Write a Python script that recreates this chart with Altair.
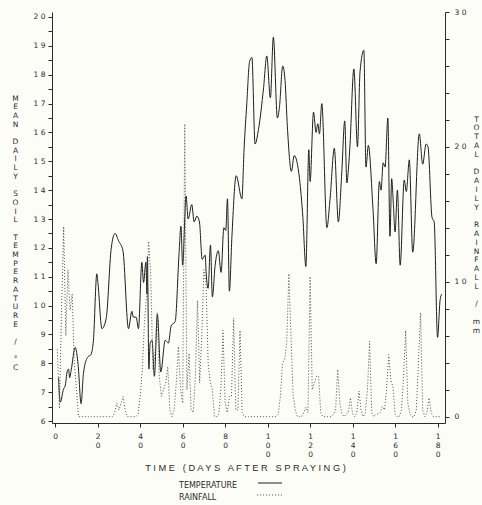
import altair as alt
import pandas as pd

# Mean daily soil temperature (deg C) against days after spraying
temp_day = [1.6, 2.4, 3.9, 4.8, 5.6, 6.3, 6.8, 7.5, 9.4, 10.8, 12.2, 13.3, 15.2, 16.8,
            18.0, 19.6, 20.1, 22.0, 24.0, 26.4, 28.2, 29.8, 31.9, 34.5, 36.1, 36.8,
            38.1, 39.2, 40.8, 41.6, 42.7, 43.2, 43.4, 44.1, 44.7, 45.6, 46.7, 48.1,
            49.7, 51.8, 53.3, 54.6, 56.5, 58.3, 59.2, 60.0, 61.6, 62.6, 64.3, 65.4,
            66.7, 67.9, 69.2, 70.6, 71.1, 72.0, 73.1, 74.0, 75.3, 76.8, 78.1, 79.4,
            80.3, 81.1, 82.0, 83.2, 85.2, 87.9, 88.9, 90.2, 91.5, 92.6, 94.1, 95.7,
            98.1, 99.6, 101.3, 102.7, 104.6, 105.6, 107.1, 108.2, 109.3, 111.2, 112.5,
            115.0, 116.6, 118.0, 119.4, 120.0, 121.6, 122.8, 123.6, 124.4, 125.5,
            127.9, 129.4, 131.4, 133.3, 134.9, 136.3, 137.3, 138.1, 138.8, 140.6,
            142.3, 143.5, 145.3, 146.3, 147.4, 149.6, 151.1, 152.6, 153.4, 154.4,
            155.3, 156.6, 157.6, 158.4, 159.2, 160.0, 161.1, 162.4, 164.3, 165.3,
            166.7, 168.3, 171.4, 173.0, 174.6, 175.5, 177.4, 178.4, 180.0, 181.2, 182.0]
temp_val = [7.5, 6.65, 7.1, 7.25, 7.7, 7.8, 7.5, 7.75, 8.55, 7.95, 6.6, 7.65, 8.2, 8.3,
            8.8, 11.1, 10.8, 9.2, 9.55, 12.0, 12.5, 12.25, 11.9, 9.2, 9.8, 9.6,
            9.6, 9.2, 11.5, 10.8, 11.5, 10.4, 11.7, 7.8, 8.7, 8.8, 7.55, 9.7,
            7.7, 8.8, 8.7, 9.3, 9.45, 11.8, 12.75, 11.4, 13.8, 13.0, 13.5, 12.9,
            13.1, 12.9, 11.6, 11.75, 11.1, 10.6, 12.1, 10.3, 11.4, 11.9, 11.15, 12.7,
            12.6, 13.7, 10.5, 12.4, 14.5, 13.7, 15.4, 17.0, 18.45, 18.6, 15.6, 16.1,
            17.55, 18.65, 17.2, 19.3, 16.5, 16.9, 18.3, 17.8, 16.2, 14.65, 15.2,
            14.4, 13.05, 11.35, 15.4, 14.3, 16.7, 16.0, 16.3, 15.95, 17.0,
            12.7, 13.7, 15.45, 12.9, 14.6, 16.4, 14.25, 14.8, 15.6, 18.2,
            15.5, 18.1, 18.85, 14.8, 15.55, 13.35, 11.45, 14.3, 14.0, 14.95,
            14.8, 16.5, 12.4, 14.4, 13.5, 12.55, 14.0, 11.4, 14.35, 13.95,
            15.05, 11.85, 15.95, 14.9, 15.6, 15.5, 13.05, 12.9, 8.9, 10.2, 10.4]

# Total daily rainfall (mm), one value per day from day 1
rain_val = [5.0, 0.6, 8.0, 14.1, 6.0, 10.9, 7.9, 9.1, 4.0, 2.0,      # 1-10
            0.0, 0.0, 0.0, 0.0, 0.0, 0.0, 0.0, 0.0, 0.0, 0.0,        # 11-20
            0.0, 0.0, 0.0, 0.0, 0.0, 0.0, 0.0, 0.3, 1.0, 0.5,        # 21-30
            1.0, 1.5, 0.4, 0.0, 0.0, 0.0, 0.0, 0.0, 0.2, 1.5,        # 31-40
            3.5, 6.9, 9.0, 13.0, 10.4, 3.5, 4.7, 7.7, 3.0, 1.5,      # 41-50
            2.0, 2.5, 3.7, 0.5, 0.0, 0.5, 2.5, 5.2, 2.0, 1.0,        # 51-60
            21.7, 2.0, 4.7, 0.5, 0.3, 3.0, 8.6, 2.5, 6.0, 10.9,      # 61-70
            9.9, 4.0, 2.5, 2.0, 0.0, 0.0, 0.2, 2.0, 6.4, 1.0,        # 71-80
            0.3, 1.5, 1.5, 7.3, 0.5, 0.5, 6.4, 0.3, 0.0, 0.0,        # 81-90
            0.0, 0.0, 0.0, 0.0, 0.0, 0.0, 0.0, 0.0, 0.0, 0.0,        # 91-100
            0.0, 0.0, 0.0, 0.0, 0.2, 1.5, 4.0, 4.2, 5.5, 10.6,       # 101-110
            6.0, 1.6, 0.5, 0.0, 0.0, 0.0, 0.3, 0.7, 0.3, 10.4,       # 111-120
            2.0, 2.5, 3.0, 3.0, 0.3, 0.0, 0.0, 0.0, 0.0, 0.0,        # 121-130
            0.2, 0.5, 3.5, 1.0, 0.2, 0.0, 0.2, 0.3, 1.4, 0.2,        # 131-140
            0.0, 0.3, 1.9, 0.5, 0.0, 0.3, 2.0, 5.6, 0.3, 0.0,        # 141-150
            0.2, 0.2, 0.3, 0.75, 0.5, 2.0, 4.6, 2.7, 2.2, 0.2,       # 151-160
            0.0, 0.0, 0.5, 3.0, 6.4, 1.0, 0.2, 0.0, 0.0, 0.5,        # 161-170
            4.0, 7.7, 0.5, 0.0, 0.3, 1.4, 0.3, 0.0, 0.0, 0.0, 0.0]   # 171-181
rain_day = list(range(1, len(rain_val) + 1))

x_ticks = list(range(0, 185, 5))
left_ticks = [6 + 0.5 * i for i in range(29)]
right_ticks = list(range(0, 31, 2))

NB = "\u00a0"    # gap between words on one line
GAP = "\u2800"   # empty line in a stacked (one letter per line) title
left_title = ["M", "E", "A", "N", GAP, "D", "A", "I", "L", "Y", GAP, "S", "O", "I", "L",
              GAP, "T", "E", "M", "P", "E", "R", "A", "T", "U", "R", "E", GAP, "/", GAP,
              "\u00b0", "C"]
right_title = ["T", "O", "T", "A", "L", GAP, "D", "A", "I", "L", "Y", GAP, "R", "A", "I",
               "N", "F", "A", "L", "L", GAP, "/", GAP, "m", "m"]
x_title = ("T I M E" + NB * 3 + "( D A Y S" + NB * 3 + "A F T E R" + NB * 3
           + "S P R A Y I N G )")
legend_labels = ["TEMPERATURE", "RAINFALL"]

INK = "#2a2a2a"
FONT = "DejaVu Sans"

temp_df = pd.DataFrame({"day": temp_day, "temp": temp_val})
rain_df = pd.DataFrame({"day": rain_day, "rain": rain_val})

x_scale = alt.Scale(domain=[-1.5, 183.5], nice=False, zero=False)

x_axis = alt.Axis(
    values=x_ticks,
    labelExpr="datum.value % 10 == 0 ? split(toString(datum.value), '') : ''",
    labelBaseline="top", labelLineHeight=9, labelFontSize=7.5, labelFont=FONT,
    labelPadding=5, labelFlush=False, labelOverlap=False, labelColor=INK,
    tickSize=4, tickColor=INK, domainColor=INK, grid=False,
    title=x_title, titleFont="Liberation Sans", titleFontSize=9.3,
    titleFontWeight="normal", titleColor=INK, titleX=193, titleY=44,
    titleAlign="center", titleBaseline="middle",
)

left_axis = alt.Axis(
    orient="left", values=left_ticks,
    labelExpr="datum.value % 1 == 0 ? join(split(toString(datum.value), ''), ' ') : ''",
    labelFontSize=7.5, labelFont=FONT, labelPadding=3, labelColor=INK,
    labelOverlap=False, labelFlush=False,
    tickSize=4, tickColor=INK, domainColor=INK, grid=False,
    title=left_title, titleAngle=0, titleX=-37, titleY=82, titleAlign="center",
    titleBaseline="top", titleLineHeight=8.7, titleFontSize=7.5, titleFont=FONT,
    titleFontWeight="normal", titleColor=INK,
)

right_axis = alt.Axis(
    orient="right", values=right_ticks,
    labelExpr="datum.value % 10 == 0 ? join(split(toString(datum.value), ''), ' ') : ''",
    labelFontSize=7.5, labelFont=FONT, labelPadding=5, labelColor=INK,
    labelOverlap=False, labelFlush=False,
    tickSize=4, tickColor=INK, domainColor=INK, grid=False,
    title=right_title, titleAngle=0, titleX=31, titleY=103, titleAlign="center",
    titleBaseline="top", titleLineHeight=8.8, titleFontSize=7.5, titleFont=FONT,
    titleFontWeight="normal", titleColor=INK,
)

temp_line = alt.Chart(temp_df).mark_line(
    color="#1e1e1e", strokeWidth=1, interpolate="monotone"
).encode(
    x=alt.X("day:Q", scale=x_scale, axis=x_axis),
    y=alt.Y("temp:Q", scale=alt.Scale(domain=[5.931, 20.173], nice=False, zero=False),
            axis=left_axis),
)

rain_line = alt.Chart(rain_df).mark_line(
    color="#5a5a5a", strokeWidth=1, strokeDash=[1.1, 1.9]
).encode(
    x=alt.X("day:Q", scale=x_scale),
    y=alt.Y("rain:Q", scale=alt.Scale(domain=[-0.467, 30], nice=False, zero=False),
            axis=right_axis),
)

# Key below the axis title: label followed by a line sample
key_temp_text = alt.Chart(pd.DataFrame({"t": [legend_labels[0]]})).mark_text(
    align="left", baseline="middle", font=FONT, fontSize=8, color=INK
).encode(x=alt.value(127), y=alt.value(474), text="t:N")
key_rain_text = alt.Chart(pd.DataFrame({"t": [legend_labels[1]]})).mark_text(
    align="left", baseline="middle", font=FONT, fontSize=8, color=INK
).encode(x=alt.value(127), y=alt.value(486), text="t:N")
key_temp_line = alt.Chart(pd.DataFrame({"k": [0]})).mark_rule(
    color="#1e1e1e", strokeWidth=1
).encode(x=alt.value(206), x2=alt.value(230), y=alt.value(471))
key_rain_line = alt.Chart(pd.DataFrame({"k": [0]})).mark_rule(
    color="#5a5a5a", strokeWidth=1, strokeDash=[1.1, 1.9]
).encode(x=alt.value(205), x2=alt.value(230), y=alt.value(483))

chart = alt.layer(
    temp_line, rain_line, key_temp_text, key_rain_text, key_temp_line, key_rain_line
).resolve_scale(
    y="independent"
).properties(
    width=393, height=411,
    autosize=alt.AutoSizeParams(type="none"),
    padding={"left": 52, "top": 12, "right": 37, "bottom": 82},
    background="#fdfdf8",
).configure_view(stroke=None)

chart.save("out.html", embed_options={"renderer": "svg", "actions": False})
